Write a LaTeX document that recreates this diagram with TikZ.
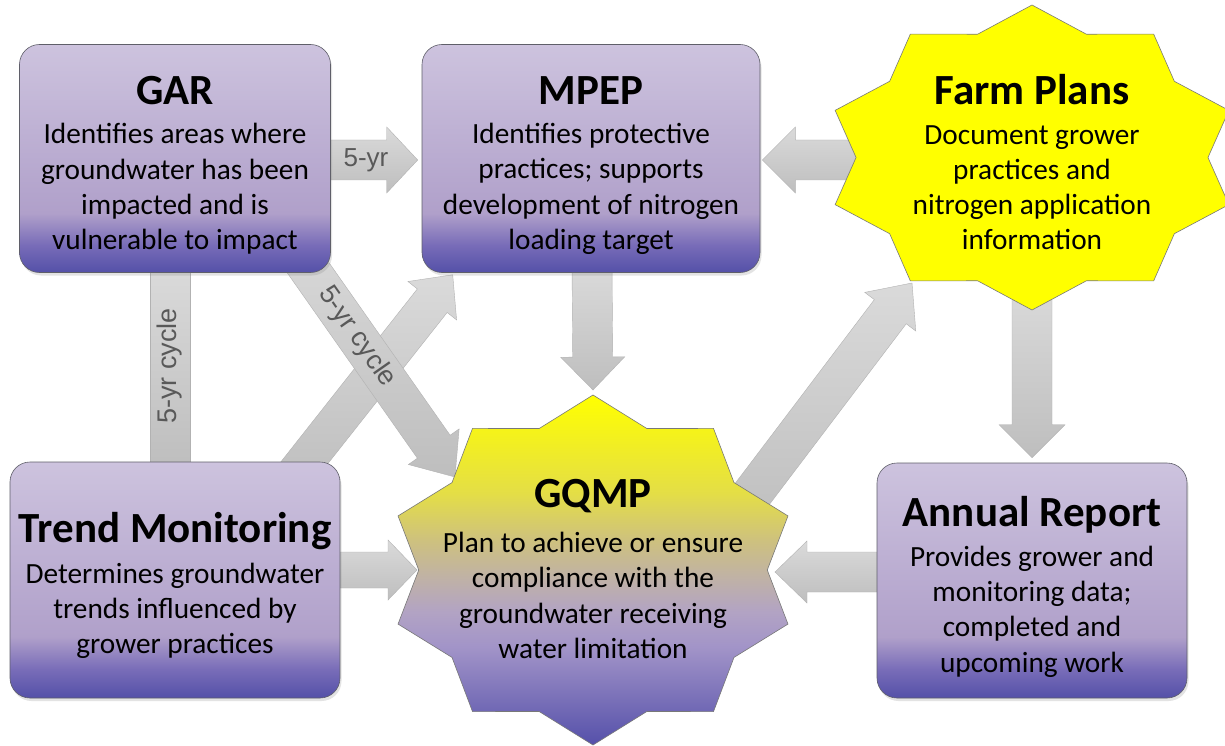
\documentclass[tikz,border=0pt]{standalone}
\usepackage{fontspec}
\setmainfont{Carlito}
\newfontfamily\labelfont{Liberation Sans}
\usetikzlibrary{calc,shadows,backgrounds}

\definecolor{bxtop}{RGB}{205,195,222}
\definecolor{bxmid}{RGB}{176,160,202}
\definecolor{bxlow}{RGB}{120,108,184}
\definecolor{bxbot}{RGB}{84,80,168}
\definecolor{boxline}{RGB}{95,95,105}
\definecolor{arrtop}{RGB}{218,218,218}
\definecolor{arrbot}{RGB}{190,190,190}
\definecolor{arrline}{RGB}{178,178,178}
\definecolor{labelgray}{RGB}{89,89,89}
\definecolor{starline}{RGB}{120,120,120}
\definecolor{farmyellow}{RGB}{255,255,0}
\definecolor{gqa}{RGB}{255,255,0}
\definecolor{gqb}{RGB}{228,222,70}
\definecolor{gqc}{RGB}{205,192,128}
\definecolor{gqd}{RGB}{192,178,165}
\definecolor{gqe}{RGB}{178,163,196}
\definecolor{gqf}{RGB}{162,148,200}
\definecolor{gqg}{RGB}{85,80,170}

\pgfdeclareverticalshading{boxshade}{100bp}{color(0bp)=(bxbot); color(25bp)=(bxbot); color(31bp)=(bxlow); color(38bp)=(bxmid); color(75bp)=(bxtop); color(100bp)=(bxtop)}
\pgfdeclareverticalshading{gqshade}{100bp}{color(0bp)=(gqg); color(25bp)=(gqg); color(39bp)=(gqf); color(44bp)=(gqe); color(49bp)=(gqd); color(54bp)=(gqc); color(61bp)=(gqb); color(75bp)=(gqa); color(100bp)=(gqa)}

\newcommand{\boxtitle}{\fontsize{43}{43}\selectfont\bfseries}
\newcommand{\boxbody}{\fontsize{29.3}{35.3}\selectfont}
\newcommand{\tstrut}[1]{\rule{0pt}{#1}}

\newcommand{\blockarrow}[5]{%
  \coordinate (baH) at ($(#2)!#5!(#1)$);
  \path[arrowfill] ($(#1)!#3!90:(#2)$) -- ($(baH)!#3!90:(#2)$) -- ($(baH)!#4!90:(#2)$) -- (#2)
    -- ($(baH)!#4!-90:(#2)$) -- ($(baH)!#3!-90:(#2)$) -- ($(#1)!#3!-90:(#2)$) -- cycle;
}

\begin{document}
\begin{tikzpicture}[x=1pt,y=-1pt,
  box/.style={draw=boxline, line width=0.6pt, rounded corners=20pt, shade, shading=boxshade,
    align=center, inner sep=0pt, font=\boxbody,
    drop shadow={shadow xshift=1.5pt, shadow yshift=-3pt, opacity=0.22}},
  arrowfill/.style={top color=arrtop, bottom color=arrbot, draw=arrline, line width=0.4pt},
  cyclelabel/.style={font=\labelfont\fontsize{27}{27}\selectfont, text=labelgray, inner sep=0pt},
  startext/.style={align=center, font=\boxbody, inner sep=0pt},
]
\useasboundingbox (0,0) rectangle (1225,746);

% boxes
\node[box, minimum width=311pt, minimum height=228pt] (gar) at (175,158.5)
  {{\boxtitle\tstrut{42pt}GAR}\\[4pt] Identifies areas where\\ groundwater has been\\ impacted and is\\ vulnerable to impact};
\node[box, minimum width=338pt, minimum height=228pt] (mpep) at (591,158.5)
  {{\boxtitle\tstrut{42pt}MPEP}\\[4pt] Identifies protective\\ practices; supports\\ development of nitrogen\\ loading target};
\node[box, minimum width=330pt, minimum height=236pt] (trend) at (175,580)
  {{\boxtitle\tstrut{41pt}Trend Monitoring}\\[6pt] Determines groundwater\\ trends influenced by\\ grower practices};
\node[box, minimum width=310pt, minimum height=235pt] (annual) at (1032,580.5)
  {{\boxtitle\tstrut{43pt}Annual Report}\\[4pt] Provides grower and\\ monitoring data;\\ completed and\\ upcoming work};

% stars
\path[draw=starline, line width=0.6pt, fill=farmyellow]
  plot[samples at={0,...,19}, variable=\k]
  ({1032 + 207*(mod(\k,2)==0 ? 1 : 0.85)*cos(90+18*\k)}, {157.5 - 152.5*(mod(\k,2)==0 ? 1 : 0.85)*sin(90+18*\k)}) -- cycle;
\node[startext] (farm) at (1032,157.5)
  {{\boxtitle\tstrut{40pt}Farm Plans}\\[4pt] Document grower\\ practices and\\ nitrogen application\\ information};

\path[draw=starline, line width=0.6pt, shade, shading=gqshade]
  plot[samples at={0,...,19}, variable=\k]
  ({593 + 205*(mod(\k,2)==0 ? 1 : 0.85)*cos(90+18*\k)}, {570 - 175*(mod(\k,2)==0 ? 1 : 0.85)*sin(90+18*\k)}) -- cycle;
\node[startext] (gqmp) at (593,569)
  {{\boxtitle GQMP}\\[10pt] Plan to achieve or ensure\\ compliance with the\\ groundwater receiving\\ water limitation};

% arrows on background layer
\begin{pgfonlayer}{background}
  \fill[white] (0,0) rectangle (1225,746);
  \path[arrowfill] ($(gar.south)+(-25,-5)$) rectangle ($(trend.north)+(15,5)$);
  % trend -> mpep
  \coordinate (a8s) at ($(trend.north)+(116,18)$);
  \coordinate (a8t) at ($(mpep.south west)+(31,2)$);
  \blockarrow{a8s}{a8t}{19pt}{31pt}{33pt}
  % gar -> gqmp
  \coordinate (a7s) at ($(gar.south)+(113.5,-33)$);
  \coordinate (a7t) at ($(gqmp)+(-138,-92)$);
  \blockarrow{a7s}{a7t}{20pt}{31pt}{37pt}
  % gar -> mpep
  \coordinate (a1s) at ($(gar.east)+(0,1.5)$);
  \coordinate (a1t) at ($(mpep.west)+(-4,1.5)$);
  \blockarrow{a1s}{a1t}{20pt}{33pt}{31pt}
  % farm -> mpep
  \coordinate (a2s) at ($(farm)+(-150,2.5)$);
  \coordinate (a2t) at ($(mpep.east)+(2,1.5)$);
  \blockarrow{a2s}{a2t}{20pt}{33pt}{33pt}
  % mpep -> gqmp
  \coordinate (a3s) at ($(mpep.south)+(1,-6)$);
  \coordinate (a3t) at ($(gqmp)+(0,-179)$);
  \blockarrow{a3s}{a3t}{20pt}{32pt}{33pt}
  % farm -> annual
  \coordinate (a4s) at ($(farm)+(0,130)$);
  \coordinate (a4t) at ($(annual.north)+(0,-5)$);
  \blockarrow{a4s}{a4t}{20pt}{33pt}{33pt}
  % annual -> gqmp
  \coordinate (a5s) at ($(annual.west)+(6,-8.5)$);
  \coordinate (a5t) at ($(gqmp)+(182,3)$);
  \blockarrow{a5s}{a5t}{20pt}{31pt}{32pt}
  % trend -> gqmp
  \coordinate (a6s) at ($(trend.east)+(-5,-10)$);
  \coordinate (a6t) at ($(gqmp)+(-176,1)$);
  \blockarrow{a6s}{a6t}{18pt}{30pt}{29pt}
  % gqmp -> farm
  \coordinate (a9s) at ($(gqmp)+(138,-47)$);
  \coordinate (a9t) at ($(farm)+(-120,125.5)$);
  \blockarrow{a9s}{a9t}{20pt}{32pt}{36pt}
  % labels
  \node[cyclelabel, font=\labelfont\fontsize{26}{26}\selectfont] (lbla) at (366,160) {5-yr};
  \node[cyclelabel, rotate=90] (lblb) at (170,366) {5-yr cycle};
  \node[cyclelabel, rotate=-55] (lblc) at (357,337) {5-yr cycle};
\end{pgfonlayer}
\end{tikzpicture}
\end{document}
